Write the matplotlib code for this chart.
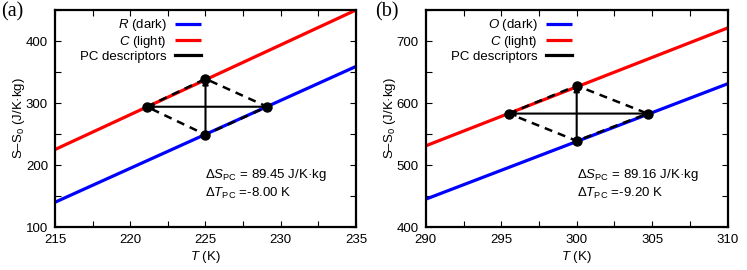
import matplotlib
matplotlib.use('Agg')
import matplotlib.pyplot as plt
from matplotlib.ticker import MultipleLocator

plt.rcParams['font.family'] = ['Liberation Sans', 'DejaVu Sans']
plt.rcParams['mathtext.fontset'] = 'custom'
plt.rcParams['mathtext.rm'] = 'Liberation Sans'
plt.rcParams['mathtext.it'] = 'Liberation Sans:italic'
plt.rcParams['mathtext.bf'] = 'Liberation Sans:bold'

# panel (a)
T_a = [215, 235]
dark_a = [140, 359]
light_a = [225, 450]
pc_T_a = [221.1, 225.0, 229.1, 225.0]   # left, top, right, bottom
pc_S_a = [294, 339, 294, 249]
labels_a = [r'$\mathit{R}$ (dark)', r'$\mathit{C}$ (light)', 'PC descriptors']
dS_a = '89.45'
dT_a = '-8.00'

# panel (b)
T_b = [290, 310]
dark_b = [445, 631]
light_b = [531, 721]
pc_T_b = [295.5, 300.0, 304.7, 300.0]
pc_S_b = [583, 628, 583, 539]
labels_b = [r'$\mathit{O}$ (dark)', r'$\mathit{C}$ (light)', 'PC descriptors']
dS_b = '89.16'
dT_b = '-9.20'

fig = plt.figure(figsize=(7.47, 2.70), dpi=100)
ax_a = fig.add_axes([0.0736, 0.159, 0.403, 0.804])
ax_b = fig.add_axes([0.570, 0.159, 0.404, 0.804])


def draw(ax, T, dark, light, pcT, pcS, labels, dS, dT, xlim, ylim, tag, tagx):
    ax.plot(T, dark, color='#0000ff', lw=2.3, label=labels[0], solid_capstyle='butt')
    ax.plot(T, light, color='#ff0000', lw=2.3, label=labels[1], solid_capstyle='butt')
    # dashed diamond
    dT_ = pcT + [pcT[0]]
    dS_ = pcS + [pcS[0]]
    ax.plot(dT_, dS_, color='black', lw=1.8, ls=(0, (3.2, 2.4)))
    # arrows
    ax.annotate('', xy=(pcT[0], pcS[0]), xytext=(pcT[2], pcS[2]),
                arrowprops=dict(arrowstyle='-|>', color='black', lw=1.5,
                                mutation_scale=8, shrinkA=0, shrinkB=0))
    ax.annotate('', xy=(pcT[1], pcS[1]), xytext=(pcT[3], pcS[3]),
                arrowprops=dict(arrowstyle='-|>', color='black', lw=1.5,
                                mutation_scale=8, shrinkA=0, shrinkB=0))
    ax.plot([], [], color='black', lw=2.3, label=labels[2])
    ax.plot(pcT, pcS, 'o', color='black', ms=6.5, zorder=5)

    ax.set_xlim(xlim)
    ax.set_ylim(ylim)
    ax.xaxis.set_major_locator(MultipleLocator(5))
    ax.xaxis.set_minor_locator(MultipleLocator(2.5))
    ax.yaxis.set_major_locator(MultipleLocator(100))
    ax.yaxis.set_minor_locator(MultipleLocator(50))
    ax.tick_params(which='both', direction='in', top=True, right=True,
                   labelsize=9.5, width=0.8)
    ax.tick_params(which='major', length=4, pad=5)
    ax.tick_params(which='minor', length=4)
    for s in ax.spines.values():
        s.set_linewidth(1.6)
    ax.set_xlabel(r'$\mathit{T}$ (K)', fontsize=9.5, labelpad=2)
    ax.set_ylabel(r'S–S$_0$ (J/K·kg)', fontsize=9.5, labelpad=-1)
    ax.legend(loc='upper left', bbox_to_anchor=(0.06, 1.0), frameon=False,
              markerfirst=False, fontsize=9.5, handlelength=2.0,
              handletextpad=0.6, labelspacing=0.05, borderaxespad=0.15)
    ax.text(0.5, 0.24, r'$\Delta\mathit{S}_{\mathrm{PC}}$ = ' + dS + ' J/K·kg',
            transform=ax.transAxes, fontsize=9.5, va='center', ha='left')
    ax.text(0.5, 0.155, r'$\Delta\mathit{T}_{\mathrm{PC}}$ =' + dT + ' K',
            transform=ax.transAxes, fontsize=9.5, va='center', ha='left')
    ax.text(tagx, 1.035, tag, transform=ax.transAxes, fontsize=14.5,
            family='Liberation Serif', va='top', ha='left')


draw(ax_a, T_a, dark_a, light_a, pc_T_a, pc_S_a, labels_a, dS_a, dT_a,
     (215, 235), (100, 450), '(a)', -0.178)
draw(ax_b, T_b, dark_b, light_b, pc_T_b, pc_S_b, labels_b, dS_b, dT_b,
     (290, 310), (400, 750), '(b)', -0.168)

fig.savefig('out.png', dpi=100)
